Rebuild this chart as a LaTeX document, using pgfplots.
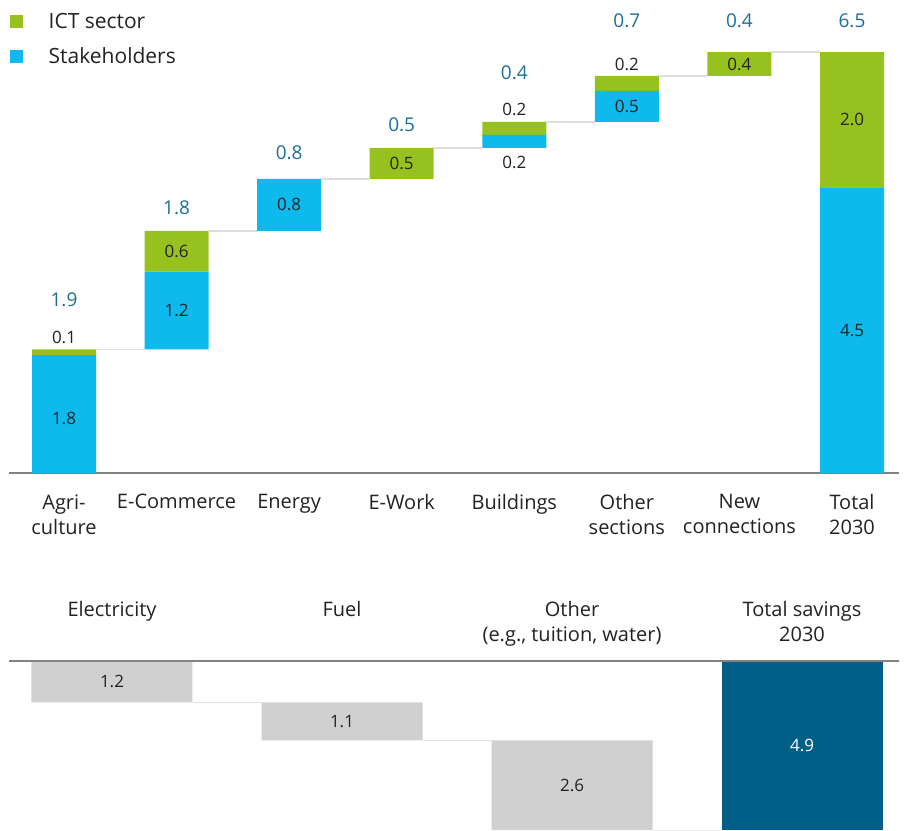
\documentclass[border=0pt]{standalone}
\usepackage{fontspec}
\setmainfont{Open Sans}
\usepackage{pgfplots}
\pgfplotsset{compat=1.18}
\definecolor{ictgreen}{RGB}{151,193,31}
\definecolor{stakeblue}{RGB}{13,185,237}
\definecolor{totblue}{RGB}{28,110,150}
\definecolor{darkbar}{RGB}{0,94,135}
\definecolor{greybar}{RGB}{208,208,208}
\definecolor{conn}{RGB}{222,222,222}
\definecolor{axisgrey}{RGB}{130,130,130}
\definecolor{txt}{RGB}{34,34,34}
\newcommand\catfont{\fontsize{20}{25}\selectfont}
\newcommand\legfont{\fontsize{21}{25}\selectfont}
\newcommand\valfont{\fontsize{17}{20}\selectfont}
\newcommand\totfont{\fontsize{19}{22}\selectfont}
\begin{document}
\begin{tikzpicture}[x=1pt,y=1pt]
% ---------- top chart: bars ----------
\begin{axis}[at={(9pt,-473pt)}, anchor=south west, scale only axis,
  width=890pt, height=421pt, xmin=-0.4886, xmax=7.4176, ymin=0, ymax=6.5,
  ybar stacked, bar width=64pt, clip=false,
  axis x line=bottom, axis y line=none,
  axis line style={-, draw=axisgrey, line width=1.3pt},
  xtick={0,...,7},
  xticklabels={{Agri-\\culture},{E-Commerce},{Energy},{E-Work},{Buildings},{Other\\sections},{New\\connections},{Total\\2030}},
  xtick style={draw=none}, ytick=\empty,
  xticklabel style={align=center, font=\catfont, text=txt, anchor=north, inner sep=0pt, yshift=-19pt},
  reverse legend,
  legend style={at={(axis description cs:0.0011,1.0926)}, anchor=north west, draw=none, fill=none,
    font=\legfont, text=txt, inner sep=0pt, row sep=18pt,
    nodes={inner sep=0pt},
    /tikz/every odd column/.append style={column sep=26pt}},
  legend cell align=left,
  legend image code/.code={\fill[#1] (0pt,-6pt) rectangle (12.5pt,6.5pt);},
]
\addplot[fill=none, draw=none, forget plot] coordinates {(0,0) (1,1.91) (2,3.74) (3,4.54) (4,5.02) (5,5.42) (6,6.13) (7,0)};
\addplot[fill=stakeblue, draw=none] coordinates {(0,1.82) (1,1.2) (2,0.8) (3,0) (4,0.2) (5,0.48) (6,0) (7,4.41)};
\addplot[fill=ictgreen, draw=none] coordinates {(0,0.09) (1,0.63) (2,0) (3,0.48) (4,0.2) (5,0.23) (6,0.37) (7,2.09)};
\legend{Stakeholders, ICT sector}
\end{axis}
% ---------- top chart: connectors and labels ----------
\begin{axis}[at={(9pt,-473pt)}, anchor=south west, scale only axis,
  width=890pt, height=421pt, xmin=-0.4886, xmax=7.4176, ymin=0, ymax=6.5,
  hide axis, clip=false]
\addplot[conn, line width=1.5pt] coordinates {(0.284,1.91) (0.716,1.91)};
\addplot[conn, line width=1.5pt] coordinates {(1.284,3.74) (1.716,3.74)};
\addplot[conn, line width=1.5pt] coordinates {(2.284,4.54) (2.716,4.54)};
\addplot[conn, line width=1.5pt] coordinates {(3.284,5.02) (3.716,5.02)};
\addplot[conn, line width=1.5pt] coordinates {(4.284,5.42) (4.716,5.42)};
\addplot[conn, line width=1.5pt] coordinates {(5.284,6.13) (5.716,6.13)};
\addplot[conn, line width=1.5pt] coordinates {(6.284,6.50) (6.716,6.50)};
% inner labels
\node[font=\valfont, text=txt] at (axis cs:0,0.84) {1.8};
\node[font=\valfont, text=txt] at (axis cs:0,2.10) {0.1};
\node[font=\valfont, text=txt] at (axis cs:1,2.51) {1.2};
\node[font=\valfont, text=txt] at (axis cs:1,3.425) {0.6};
\node[font=\valfont, text=txt] at (axis cs:2,4.14) {0.8};
\node[font=\valfont, text=txt] at (axis cs:3,4.78) {0.5};
\node[font=\valfont, text=txt] at (axis cs:4,4.80) {0.2};
\node[font=\valfont, text=txt] at (axis cs:4,5.62) {0.2};
\node[font=\valfont, text=txt] at (axis cs:5,5.66) {0.5};
\node[font=\valfont, text=txt] at (axis cs:5,6.30) {0.2};
\node[font=\valfont, text=txt] at (axis cs:6,6.315) {0.4};
\node[font=\valfont, text=txt] at (axis cs:7,2.205) {4.5};
\node[font=\valfont, text=txt] at (axis cs:7,5.455) {2.0};
% totals
\node[font=\totfont, text=totblue] at (axis cs:0,2.67) {1.9};
\node[font=\totfont, text=totblue] at (axis cs:1,4.09) {1.8};
\node[font=\totfont, text=totblue] at (axis cs:2,4.94) {0.8};
\node[font=\totfont, text=totblue] at (axis cs:3,5.37) {0.5};
\node[font=\totfont, text=totblue] at (axis cs:4,6.18) {0.4};
\node[font=\totfont, text=totblue] at (axis cs:5,6.99) {0.7};
\node[font=\totfont, text=totblue] at (axis cs:6,6.99) {0.4};
\node[font=\totfont, text=totblue] at (axis cs:7,6.99) {6.5};
\end{axis}
% ---------- bottom chart: bars ----------
\begin{axis}[at={(9pt,-661pt)}, anchor=north west, scale only axis,
  width=890pt, height=169pt, xmin=-0.4478, xmax=3.4217, ymin=0, ymax=4.9,
  y dir=reverse, ybar stacked, bar width=161pt, hide axis, clip=false]
\addplot[fill=none, draw=none] coordinates {(0,0) (1,1.2) (2,2.3) (3,0)};
\addplot[fill=greybar, draw=none] coordinates {(0,1.2) (1,1.1) (2,2.6) (3,0)};
\addplot[fill=darkbar, draw=none] coordinates {(0,0) (1,0) (2,0) (3,4.9)};
\end{axis}
% ---------- bottom chart: line, connectors and labels ----------
\begin{axis}[at={(9pt,-661pt)}, anchor=north west, scale only axis,
  width=890pt, height=169pt, xmin=-0.4478, xmax=3.4217, ymin=0, ymax=4.9,
  y dir=reverse, hide axis, clip=false]
\addplot[conn, line width=1.5pt] coordinates {(0.35,1.2) (0.65,1.2)};
\addplot[conn, line width=1.5pt] coordinates {(1.35,2.3) (1.65,2.3)};
\addplot[conn!60, line width=1pt] coordinates {(2.35,4.9) (2.65,4.9)};
\addplot[axisgrey, line width=1.3pt] coordinates {(-0.4478,0) (3.4217,0)};
\node[font=\valfont, text=txt] at (axis cs:0,0.6) {1.2};
\node[font=\valfont, text=txt] at (axis cs:1,1.75) {1.1};
\node[font=\valfont, text=txt] at (axis cs:2,3.6) {2.6};
\node[font=\valfont, text=white] at (axis cs:3,2.45) {4.9};
\node[font=\catfont, text=txt, align=center, anchor=north, inner sep=0pt, yshift=60pt] at (axis cs:0,0) {Electricity};
\node[font=\catfont, text=txt, align=center, anchor=north, inner sep=0pt, yshift=60pt] at (axis cs:1,0) {Fuel};
\node[font=\catfont, text=txt, align=center, anchor=north, inner sep=0pt, yshift=60pt] at (axis cs:2,0) {Other\\(e.g., tuition, water)};
\node[font=\catfont, text=txt, align=center, anchor=north, inner sep=0pt, yshift=60pt] at (axis cs:3,0) {Total savings\\2030};
\end{axis}
\pgfresetboundingbox
\path[use as bounding box] (0,0) rectangle (909,-830);
\end{tikzpicture}
\end{document}
